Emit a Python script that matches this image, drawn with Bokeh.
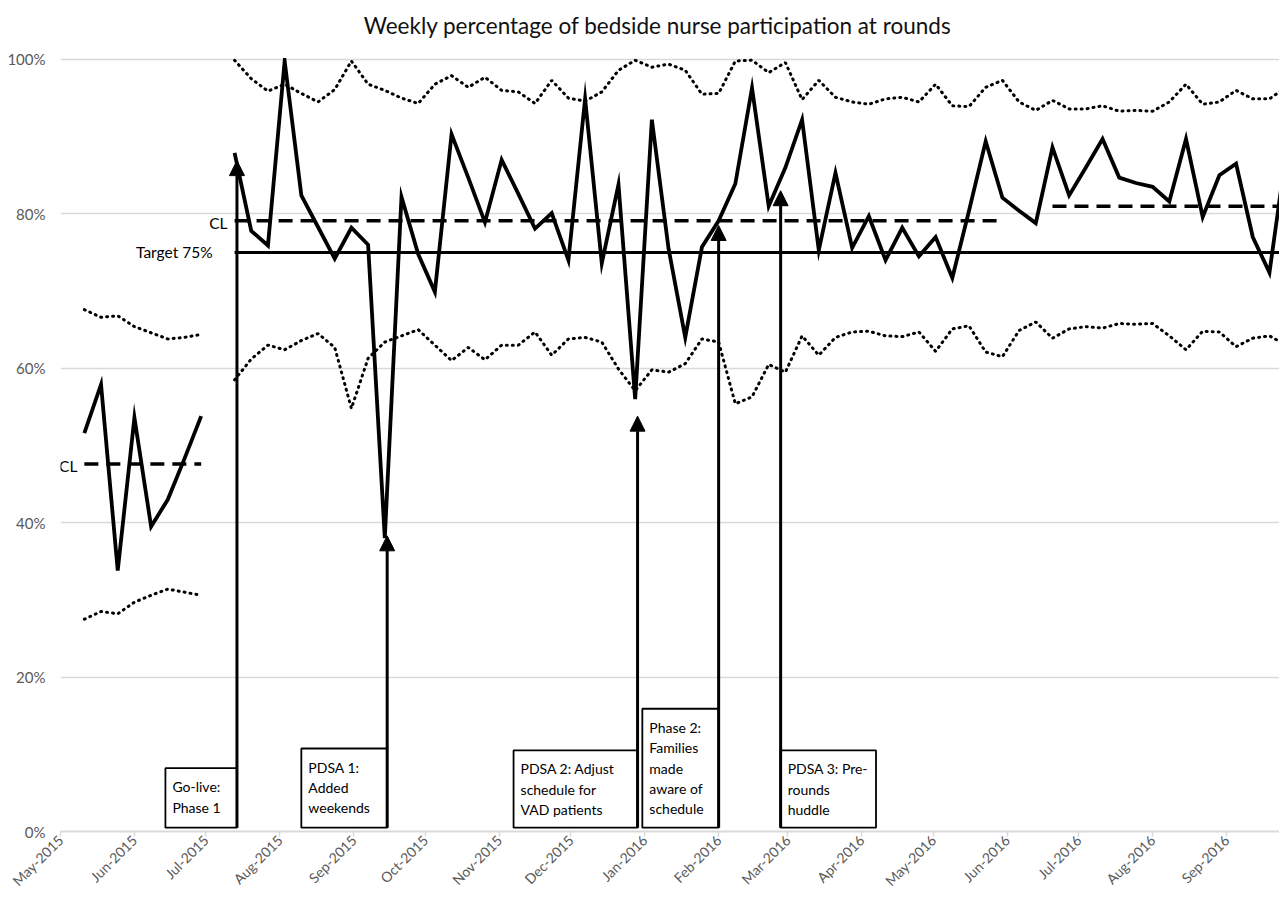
import math
import pandas as pd
from bokeh.plotting import figure
from bokeh.models import ColumnDataSource, FixedTicker, Range1d, Arrow, NormalHead
from bokeh.embed import file_html
from bokeh.resources import INLINE
from bokeh.core.properties import value

FONT = "Lato"

# ---------------- data ----------------
title_text = "Weekly percentage of bedside nurse participation at rounds"

# baseline weeks (Mondays) and values
baseline_weeks = pd.date_range("2015-05-11", periods=8, freq="7D")
baseline_pct = [51.6, 57.9, 33.8, 53.6, 39.5, 43.0, 48.3, 53.8]
baseline_ucl = [67.6, 66.6, 66.8, 65.4, 64.6, 63.8, 64.0, 64.4]
baseline_lcl = [27.5, 28.5, 28.2, 29.7, 30.6, 31.4, 31.0, 30.6]

# intervention weeks from go-live
phase_weeks = pd.date_range("2015-07-13", periods=64, freq="7D")
phase_pct = [87.9, 77.8, 75.9, 99.8, 82.4, 78.3, 74.2, 78.2, 76.0, 38.0,
             82.2, 74.8, 69.9, 90.3, 84.7, 78.9, 87.0, 82.6, 78.1, 80.1,
             74.0, 94.9, 73.6, 83.8, 56.0, 92.2, 75.5, 64.0, 75.7, 79.1,
             83.9, 96.3, 81.0, 86.0, 92.2, 75.3, 85.3, 75.6, 79.7, 74.0,
             78.2, 74.5, 77.0, 71.7, 80.4, 89.4, 82.1, 80.4, 78.8, 88.6,
             82.4, 86.0, 89.7, 84.7, 84.0, 83.5, 81.6, 89.7, 79.6, 85.0,
             86.5, 77.0, 72.4, 88.0]
phase_ucl = [99.9, 97.5, 95.9, 96.8, 95.6, 94.5, 96.1, 99.8, 96.8, 96.0,
             95.0, 94.3, 96.8, 97.9, 96.4, 97.7, 96.0, 95.8, 94.3, 97.3,
             95.0, 94.6, 95.8, 98.6, 99.9, 99.0, 99.4, 98.6, 95.5, 95.6,
             99.8, 99.9, 98.3, 99.6, 94.8, 97.3, 95.1, 94.5, 94.2, 94.9,
             95.1, 94.5, 96.8, 94.0, 93.9, 96.4, 97.3, 94.5, 93.4, 94.7,
             93.6, 93.6, 94.0, 93.3, 93.4, 93.3, 94.5, 96.8, 94.2, 94.5,
             96.0, 94.9, 94.9, 96.4]
phase_lcl = [58.5, 61.2, 63.0, 62.4, 63.6, 64.5, 62.7, 54.8, 61.3, 63.4,
             64.2, 65.0, 63.0, 61.0, 62.7, 61.1, 63.0, 63.0, 64.7, 61.7,
             63.8, 64.0, 63.4, 59.9, 57.1, 59.8, 59.5, 60.6, 63.8, 63.4,
             55.4, 56.3, 60.5, 59.5, 64.2, 61.7, 64.0, 64.7, 64.8, 64.2,
             64.1, 64.7, 62.2, 65.1, 65.5, 62.1, 61.5, 64.9, 66.0, 63.9,
             65.1, 65.4, 65.2, 65.8, 65.7, 65.8, 64.2, 62.4, 64.8, 64.7,
             62.8, 63.9, 64.2, 63.0]

# centre lines
cl_start = ["2015-05-11", "2015-07-13", "2016-06-20"]
cl_end = ["2015-06-29", "2016-05-30", "2016-09-26"]
cl_value = [47.6, 79.1, 81.0]
cl_label_at = [0, 1]  # which centre lines carry a "CL" label

# target
target_start = "2015-07-13"
target_end = "2016-09-26"
target_value = 75
target_label = "Target 75%"

# axis ticks
month_starts = ["2015-05-01", "2015-06-01", "2015-07-01", "2015-08-01", "2015-09-01",
                "2015-10-01", "2015-11-01", "2015-12-01", "2016-01-01", "2016-02-01",
                "2016-03-01", "2016-04-01", "2016-05-01", "2016-06-01", "2016-07-01",
                "2016-08-01", "2016-09-01"]
month_labels = ["May-2015", "Jun-2015", "Jul-2015", "Aug-2015", "Sep-2015", "Oct-2015",
                "Nov-2015", "Dec-2015", "Jan-2016", "Feb-2016", "Mar-2016", "Apr-2016",
                "May-2016", "Jun-2016", "Jul-2016", "Aug-2016", "Sep-2016"]
y_ticks = [0, 20, 40, 60, 80, 100]
y_labels = ["0%", "20%", "40%", "60%", "80%", "100%"]

# annotated events
event_text = ["Go-live:\nPhase 1", "PDSA 1:\nAdded\nweekends",
              "PDSA 2: Adjust\nschedule for\nVAD patients",
              "Phase 2:\nFamilies\nmade\naware of\nschedule",
              "PDSA 3: Pre-\nrounds\nhuddle"]
event_date = ["2015-07-14", "2015-09-15", "2015-12-29", "2016-02-01", "2016-02-27"]
event_tip = [86.9, 38.3, 53.8, 78.5, 83.0]
box_left = ["2015-06-14", "2015-08-10", "2015-11-07", "2015-12-31", "2016-02-27"]
box_right = ["2015-07-14", "2015-09-15", "2015-12-29", "2016-02-01", "2016-04-07"]
box_top = [8.2, 10.75, 10.5, 15.9, 10.5]
box_bottom = [0.5, 0.5, 0.5, 0.5, 0.5]

# view window (the frame also holds the title band above 100%)
x_start = pd.Timestamp("2015-05-01")
x_end = pd.Timestamp("2016-09-23 05:00")
y_start, y_end = 0, 107.64
plot_top = 100.2          # everything above the 100% line is masked (acts like clipping)
title_x = pd.Timestamp("2016-01-06 10:00")
title_y = 104.4

# ---------------- figure ----------------
p = figure(width=1279, height=898, x_axis_type="datetime",
           x_range=Range1d(x_start, x_end), y_range=Range1d(y_start, y_end),
           output_backend="svg", toolbar_location=None,
           min_border_left=60, min_border_right=0, min_border_top=0, min_border_bottom=67)
p.outline_line_color = None
p.background_fill_color = "white"
p.border_fill_color = "white"

p.xgrid.grid_line_color = None
p.ygrid.ticker = FixedTicker(ticks=y_ticks)
p.ygrid.grid_line_color = "#d9d9d9"
p.ygrid.grid_line_width = 1.5

p.yaxis.ticker = FixedTicker(ticks=y_ticks)
p.yaxis.major_label_overrides = {t: l for t, l in zip(y_ticks, y_labels)}
p.yaxis.axis_line_color = None
p.yaxis.major_tick_out = 0
p.yaxis.major_tick_in = 0
p.yaxis.minor_tick_out = 0
p.yaxis.minor_tick_in = 0
p.yaxis.major_label_standoff = 15
p.yaxis.major_label_text_font = FONT
p.yaxis.major_label_text_font_size = "15px"
p.yaxis.major_label_text_color = "#595959"

month_ms = [int(pd.Timestamp(m).value // 10**6) for m in month_starts]
p.xaxis.ticker = FixedTicker(ticks=month_ms)
p.xaxis.major_label_overrides = {t: l for t, l in zip(month_ms, month_labels)}
p.xaxis.major_label_orientation = math.pi / 4
p.xaxis.axis_line_color = "#d9d9d9"
p.xaxis.axis_line_width = 2
p.xaxis.major_tick_line_color = "#d9d9d9"
p.xaxis.major_tick_line_width = 1.5
p.xaxis.major_tick_out = 5
p.xaxis.major_tick_in = 0
p.xaxis.minor_tick_out = 0
p.xaxis.minor_tick_in = 0
p.xaxis.major_label_standoff = 1
p.xaxis.major_label_text_font = FONT
p.xaxis.major_label_text_font_size = "14px"
p.xaxis.major_label_text_color = "#595959"

# control limits (dotted)
for weeks, ucl, lcl in ((baseline_weeks, baseline_ucl, baseline_lcl),
                        (phase_weeks, phase_ucl, phase_lcl)):
    for lim in (ucl, lcl):
        p.line(x=list(weeks), y=lim, line_color="black", line_width=3,
               line_dash="1 5", line_cap="round")

# centre lines (dashed)
cl_src = ColumnDataSource(dict(x0=pd.to_datetime(cl_start), x1=pd.to_datetime(cl_end), y=cl_value))
p.segment(x0="x0", y0="y", x1="x1", y1="y", source=cl_src, line_color="black",
          line_width=3.5, line_dash="14 8")

# target line
p.segment(x0=[pd.Timestamp(target_start)], y0=[target_value],
          x1=[pd.Timestamp(target_end)], y1=[target_value],
          line_color="black", line_width=3)

# weekly data
for weeks, vals in ((baseline_weeks, baseline_pct), (phase_weeks, phase_pct)):
    p.line(x=list(weeks), y=vals, line_color="black", line_width=3.8, line_join="miter")

# mask above the 100% line, then the title
p.quad(left=[x_start], right=[x_end], bottom=[plot_top], top=[y_end],
       fill_color="white", line_color=None)
p.text(x=[title_x], y=[title_y], text=[title_text], text_align="center",
       text_baseline="middle", text_font=value(FONT), text_font_size="22.5px",
       text_color="#111111")

# labels for CL and target
lab_x = [pd.Timestamp(cl_start[i]) for i in cl_label_at]
lab_y = [cl_value[i] for i in cl_label_at]
p.text(x=lab_x, y=lab_y, text=["CL"] * len(lab_x), text_align="right",
       text_baseline="middle", x_offset=-7, y_offset=2, text_font=value(FONT),
       text_font_size="15.5px", text_color="black")
p.text(x=[pd.Timestamp(target_start)], y=[target_value], text=[target_label],
       text_align="right", text_baseline="middle", x_offset=-22, y_offset=0,
       text_font=value(FONT), text_font_size="15.5px", text_color="black")

# event boxes
box_src = ColumnDataSource(dict(left=pd.to_datetime(box_left), right=pd.to_datetime(box_right),
                                top=box_top, bottom=box_bottom, text=event_text))
p.quad(left="left", right="right", top="top", bottom="bottom", source=box_src,
       fill_color="white", line_color="black", line_width=1.8)
p.text(x="left", y="top", text="text", source=box_src, x_offset=7, y_offset=10,
       text_align="left", text_baseline="top", text_font=value(FONT),
       text_font_size="14px", text_line_height=1.2, text_color="black")

# arrows
arr_src = ColumnDataSource(dict(x=pd.to_datetime(event_date), y0=box_bottom, y1=event_tip))
p.add_layout(Arrow(source=arr_src, x_start="x", y_start="y0", x_end="x", y_end="y1",
                   line_color="black", line_width=3,
                   end=NormalHead(size=15, fill_color="black", line_color="black", line_width=1)))

open("out.html", "w").write(file_html(p, INLINE))
